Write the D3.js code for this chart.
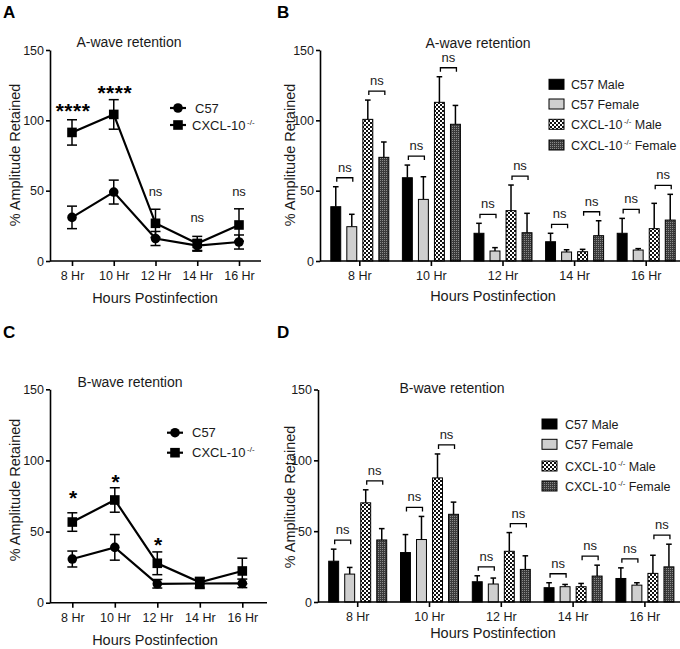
<!DOCTYPE html>
<html><head><meta charset="utf-8">
<script src="https://cdn.jsdelivr.net/npm/d3@7"></script>
<style>
html,body{margin:0;padding:0;background:#fff;}
svg{display:block;font-family:"Liberation Sans",Arial,sans-serif;-webkit-font-smoothing:antialiased;}
</style></head>
<body>
<svg id="chart" width="680" height="649"></svg>
<script>
// ---------- DATA ----------
const hours = ["8 Hr", "10 Hr", "12 Hr", "14 Hr", "16 Hr"];
const yTicks = [0, 50, 100, 150];

// Panel A: A-wave retention (line)
const aC57 = [31, 49, 16, 11, 13.5];
const aC57Err = [8, 8.5, 5, 4, 5];
const aKO = [91.4, 104.2, 26.8, 12.5, 25.6];
const aKOErr = [9, 10.5, 10, 5, 11.5];
const aSig = ["****", "****", "ns", "ns", "ns"];
const aSigY = [110, 123, 48.5, 30.5, 48.5];

// Panel C: B-wave retention (line)
const bC57 = [30.7, 38.9, 13.3, 13.5, 13.6];
const bC57Err = [5.6, 9, 3, 3.5, 3];
const bKO = [56.7, 72.2, 27.7, 14.3, 22.3];
const bKOErr = [6.5, 8.6, 8, 3.5, 9];
const bSig = ["*", "*", "*", "", ""];
const bSigY = [77, 88.6, 44.4, 0, 0];

// Panel B: A-wave retention by sex (bars)
const groups = ["C57 Male", "C57 Female", "CXCL-10 Male", "CXCL-10 Female"];
const aBarC57M = [38.6, 59.2, 19.7, 13.7, 19.7];
const aBarC57MErr = [14.2, 9, 7.1, 6, 10.6];
const aBarC57F = [24.4, 43.8, 7.1, 6.4, 7.8];
const aBarC57FErr = [8.8, 16.1, 2.4, 1.6, 1];
const aBarKOM = [100.7, 112.8, 35.8, 6.6, 23];
const aBarKOMErr = [13.7, 18.2, 18.2, 1.7, 18];
const aBarKOF = [73.7, 97.2, 20.1, 18, 29.1];
const aBarKOFErr = [10.9, 13.4, 13.8, 10.6, 18.3];

// Panel D: B-wave retention by sex (bars)
const bBarC57M = [28.8, 34.9, 14.3, 10.1, 16.6];
const bBarC57MErr = [8.5, 12.7, 4.2, 3.5, 7.5];
const bBarC57F = [19.7, 44.1, 12.7, 10.8, 11.9];
const bBarC57FErr = [4.7, 16.3, 4.2, 1.6, 1.7];
const bBarKOM = [70, 87.6, 35.8, 10.8, 20.2];
const bBarKOMErr = [9.2, 16.9, 13.2, 2.3, 12.8];
const bBarKOF = [43.8, 61.9, 23, 18.3, 24.8];
const bBarKOFErr = [8, 8.6, 9.6, 7.7, 16];

// ---------- DRAW ----------
const svg = d3.select("#chart");
const defs = svg.append("defs");
const chk = defs.append("pattern").attr("id", "checker").attr("patternUnits", "userSpaceOnUse")
  .attr("width", 4).attr("height", 4);
chk.append("rect").attr("width", 4).attr("height", 4).attr("fill", "#fff");
chk.append("rect").attr("width", 2).attr("height", 2).attr("fill", "#111");
chk.append("rect").attr("x", 2).attr("y", 2).attr("width", 2).attr("height", 2).attr("fill", "#111");
const dk = defs.append("pattern").attr("id", "dark").attr("patternUnits", "userSpaceOnUse")
  .attr("width", 2).attr("height", 2);
dk.append("rect").attr("width", 2).attr("height", 2).attr("fill", "#3a3a3a");
dk.append("rect").attr("width", 1).attr("height", 1).attr("fill", "#8a8a8a");

const barFills = ["#000", "#cfcfcf", "url(#checker)", "url(#dark)"];
const TXT = "#1a1a1a";

function panelLabel(t, x, y) {
  svg.append("text").attr("x", x).attr("y", y).attr("font-size", 17).attr("font-weight", "bold").text(t);
}

function yAxis(g, y, x) {
  const ax = g.append("g").attr("transform", `translate(${x},0)`)
    .call(d3.axisLeft(y).tickValues(yTicks).tickSize(4).tickSizeOuter(0).tickPadding(2));
  ax.select(".domain").attr("stroke-width", 1.6);
  ax.selectAll(".tick line").attr("stroke-width", 1.6);
  ax.selectAll(".tick text").attr("font-size", 12.5).attr("fill", TXT).attr("font-family", "Liberation Sans, Arial, sans-serif");
}

function xAxis(g, x, y0, xStart, xEnd) {
  const ax = g.append("g").attr("transform", `translate(0,${y0})`)
    .call(d3.axisBottom(x).tickSize(5).tickSizeOuter(0).tickPadding(5));
  ax.select(".domain").remove();
  ax.selectAll(".tick line").attr("stroke-width", 1.6);
  ax.selectAll(".tick text").attr("font-size", 12.5).attr("fill", TXT).attr("font-family", "Liberation Sans, Arial, sans-serif");
  g.append("line").attr("x1", xStart).attr("x2", xEnd).attr("y1", y0).attr("y2", y0)
    .attr("stroke", "#000").attr("stroke-width", 1.6);
}

function texts(g, L) {
  g.append("text").attr("x", L.titleX).attr("y", L.titleY).attr("text-anchor", "middle")
    .attr("font-size", 14).attr("fill", TXT).text(L.title);
  g.append("text").attr("transform", `translate(${L.ylabX},${L.ylabY}) rotate(-90)`)
    .attr("text-anchor", "middle").attr("font-size", 14.5).attr("fill", TXT).text("% Amplitude Retained");
  g.append("text").attr("x", L.xlabX).attr("y", L.xlabY).attr("text-anchor", "middle")
    .attr("font-size", 14.5).attr("fill", TXT).text("Hours Postinfection");
}

function koLabel(sel, pre, post, fs) {
  sel.append("tspan").text(pre);
  sel.append("tspan").attr("font-size", fs * 0.62).attr("dx", 1.5).attr("dy", -fs * 0.38).text("-/-");
  if (post) sel.append("tspan").attr("dy", fs * 0.38).text(" " + post);
}

function linePanel(L, c57, c57e, ko, koe, sig, sigY) {
  const g = svg.append("g");
  const x = d3.scalePoint().domain(hours).range(L.xr);
  const y = d3.scaleLinear().domain([0, 150]).range(L.yr);
  yAxis(g, y, L.axisX);
  xAxis(g, x, L.yr[0], L.axisX, L.axisEnd);
  texts(g, L);
  const series = [
    { v: c57, e: c57e, shape: "circle" },
    { v: ko, e: koe, shape: "square" }
  ];
  series.forEach(s => {
    const pts = hours.map((h, i) => ({ h, v: s.v[i], e: s.e[i] }));
    const eb = g.append("g").attr("stroke", "#000").attr("stroke-width", 1.5);
    pts.forEach(p => {
      eb.append("line").attr("x1", x(p.h)).attr("x2", x(p.h)).attr("y1", y(p.v - p.e)).attr("y2", y(p.v + p.e));
      [p.v - p.e, p.v + p.e].forEach(vv => eb.append("line").attr("x1", x(p.h) - 5).attr("x2", x(p.h) + 5)
        .attr("y1", y(vv)).attr("y2", y(vv)));
    });
    g.append("path").datum(pts).attr("fill", "none").attr("stroke", "#000").attr("stroke-width", 2.2)
      .attr("d", d3.line().x(d => x(d.h)).y(d => y(d.v)));
    pts.forEach(p => {
      if (s.shape === "circle") g.append("circle").attr("cx", x(p.h)).attr("cy", y(p.v)).attr("r", 4.8).attr("fill", "#000");
      else g.append("rect").attr("x", x(p.h) - 4.8).attr("y", y(p.v) - 4.8).attr("width", 9.6).attr("height", 9.6).attr("fill", "#000");
    });
  });
  hours.forEach((h, i) => {
    const t = sig[i];
    if (!t) return;
    if (t === "ns") {
      g.append("text").attr("x", x(h)).attr("y", y(sigY[i]) + 3.5).attr("text-anchor", "middle")
        .attr("font-size", 13).attr("fill", TXT).text(t);
    } else {
      g.append("text").attr("x", x(h) + 1).attr("y", y(sigY[i]) + 0.58 * 21).attr("text-anchor", "middle")
        .attr("font-size", 21).attr("font-weight", "bold").attr("letter-spacing", 0.5).text(t);
    }
  });
  const lg = g.append("g");
  [{ shape: "circle", label: "C57", ko: false }, { shape: "square", label: "CXCL-10", ko: true }].forEach((d, i) => {
    const cy = L.legY[i];
    lg.append("line").attr("x1", L.legX - 8).attr("x2", L.legX + 8).attr("y1", cy).attr("y2", cy)
      .attr("stroke", "#000").attr("stroke-width", 2.2);
    if (d.shape === "circle") lg.append("circle").attr("cx", L.legX).attr("cy", cy).attr("r", 4.8);
    else lg.append("rect").attr("x", L.legX - 4.8).attr("y", cy - 4.8).attr("width", 9.6).attr("height", 9.6);
    const t = lg.append("text").attr("x", L.legTextX[i]).attr("y", cy + 4.5).attr("font-size", 13).attr("fill", TXT);
    if (d.ko) koLabel(t, d.label, null, 13); else t.text(d.label);
  });
}

function barPanel(L, vals, errs) {
  const g = svg.append("g");
  const x = d3.scaleBand().domain(hours).range(L.xr);
  const inner = d3.scaleBand().domain(groups).range([-29, 29]).paddingInner(0.38).paddingOuter(0);
  const y = d3.scaleLinear().domain([0, 150]).range(L.yr);
  texts(g, L);
  hours.forEach((h, i) => {
    const cx = x(h) + x.bandwidth() / 2;
    groups.forEach((gr, j) => {
      const v = vals[j][i], e = errs[j][i];
      const bx = cx + inner(gr), bw = inner.bandwidth();
      const mid = bx + bw / 2;
      g.append("line").attr("x1", mid).attr("x2", mid).attr("y1", y(v)).attr("y2", y(v + e))
        .attr("stroke", "#000").attr("stroke-width", 1.5);
      g.append("line").attr("x1", mid - 2.8).attr("x2", mid + 2.8).attr("y1", y(v + e)).attr("y2", y(v + e))
        .attr("stroke", "#000").attr("stroke-width", 1.5);
      g.append("rect").attr("x", bx).attr("y", y(v)).attr("width", bw).attr("height", y(0) - y(v))
        .attr("fill", barFills[j]).attr("stroke", "#000").attr("stroke-width", 1);
    });
    [[0, 1], [2, 3]].forEach(([a, b]) => {
      const top = Math.max(vals[a][i] + errs[a][i], vals[b][i] + errs[b][i]);
      const by = y(top) - 9;
      const xa = cx + inner(groups[a]) + inner.bandwidth() / 2 + 1;
      const xb = cx + inner(groups[b]) + inner.bandwidth() / 2 + 1;
      g.append("path").attr("d", `M${xa},${by + 4}V${by}H${xb}V${by + 4}`)
        .attr("fill", "none").attr("stroke", "#000").attr("stroke-width", 1.3);
      g.append("text").attr("x", (xa + xb) / 2).attr("y", by - 6).attr("text-anchor", "middle")
        .attr("font-size", 13).attr("fill", TXT).text("ns");
    });
  });
  yAxis(g, y, L.axisX);
  xAxis(g, x, L.yr[0], L.axisX, L.axisEnd);
  const lg = g.append("g");
  const labels = [["C57 Male"], ["C57 Female"], ["CXCL-10", "Male"], ["CXCL-10", "Female"]];
  labels.forEach((lab, j) => {
    const cy = L.legY[j];
    lg.append("rect").attr("x", L.legX).attr("y", cy - 5).attr("width", 15).attr("height", 10)
      .attr("fill", barFills[j]).attr("stroke", "#000").attr("stroke-width", 1);
    const t = lg.append("text").attr("x", L.legTextX).attr("y", cy + 4.5).attr("font-size", 12.5).attr("fill", TXT);
    if (lab.length === 2) koLabel(t, lab[0], lab[1], 12.5); else t.text(lab[0]);
  });
}

panelLabel("A", 3, 18);
panelLabel("B", 277, 18);
panelLabel("C", 3, 338);
panelLabel("D", 277, 338);

linePanel({
  xr: [72, 239], yr: [261, 50], axisX: 50, axisEnd: 261,
  title: "A-wave retention", titleX: 129, titleY: 47,
  ylabX: 20, ylabY: 155, xlabX: 155, xlabY: 303,
  legX: 178, legY: [108, 125], legTextX: [195, 192]
}, aC57, aC57Err, aKO, aKOErr, aSig, aSigY);

barPanel({
  xr: [324, 682], yr: [261, 50], axisX: 320, axisEnd: 680,
  title: "A-wave retention", titleX: 478, titleY: 48,
  ylabX: 295, ylabY: 155, xlabX: 493, xlabY: 301,
  legX: 549, legY: [84.3, 104, 124.3, 145], legTextX: 571
}, [aBarC57M, aBarC57F, aBarKOM, aBarKOF], [aBarC57MErr, aBarC57FErr, aBarKOMErr, aBarKOFErr]);

linePanel({
  xr: [72.3, 242.3], yr: [602.7, 389.3], axisX: 50, axisEnd: 267,
  title: "B-wave retention", titleX: 130, titleY: 387,
  ylabX: 20, ylabY: 490, xlabX: 155, xlabY: 645,
  legX: 175, legY: [432.7, 452.7], legTextX: [192, 192]
}, bC57, bC57Err, bKO, bKOErr, bSig, bSigY);

barPanel({
  xr: [321.8, 680.8], yr: [602, 389.5], axisX: 318, axisEnd: 680,
  title: "B-wave retention", titleX: 452, titleY: 393,
  ylabX: 295, ylabY: 497, xlabX: 493, xlabY: 638,
  legX: 542, legY: [424, 444.3, 466, 486], legTextX: 565
}, [bBarC57M, bBarC57F, bBarKOM, bBarKOF], [bBarC57MErr, bBarC57FErr, bBarKOMErr, bBarKOFErr]);
</script>
</body></html>
